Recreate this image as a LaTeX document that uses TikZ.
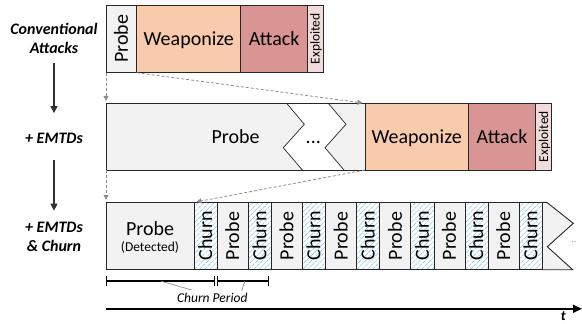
\documentclass[tikz,border=0pt]{standalone}
\usepackage{fontspec}
\setmainfont{Carlito}
\usetikzlibrary{arrows.meta,calc}
\definecolor{probeC}{HTML}{F2F2F2}
\definecolor{weapC}{HTML}{F8CBAD}
\definecolor{attC}{HTML}{D99594}
\definecolor{expC}{HTML}{F2DCDB}
\definecolor{hatchC}{RGB}{145,205,230}
\definecolor{lineC}{HTML}{262626}
\definecolor{dashC}{HTML}{8C8C8C}
\definecolor{arrC}{HTML}{303030}
\newcommand{\sz}[2]{\fontsize{#1bp}{#2bp}\selectfont}
\begin{document}
\begin{tikzpicture}[x=1bp,y=-1bp,
  box/.style={draw=lineC,line width=0.9bp,inner sep=0pt,outer sep=0pt,anchor=north west},
  big/.style={font=\sz{20}{24},inner sep=0pt,anchor=base},
  bigr/.style={font=\sz{20}{24},inner sep=0pt,anchor=base,rotate=90},
  smallr/.style={font=\sz{13.5}{16},inner sep=0pt,anchor=base,rotate=90},
  churnbox/.style={box,fill=white,path picture={
      \foreach \k in {-14,...,6}
        \draw[hatchC,line width=0.6bp,dash pattern=on 4bp off 0.8bp]
          ($(path picture bounding box.south west)+(\k*5.2,0)$) -- ++(75,-75);}},
  lab/.style={align=center,inner sep=0pt,font=\sz{16}{18.8}\bfseries\itshape},
  marrow/.style={draw=arrC,line width=1.3bp,-{Triangle[width=7bp,length=7bp]}},
  dcon/.style={draw=dashC,line width=0.8bp,dash pattern=on 3bp off 2bp,-{Triangle[width=5bp,length=5bp]},shorten >=2.5bp},
  bracket/.style={draw=black,line width=1.1bp,{Bar[width=10bp]}-{Bar[width=10bp]}},
  pointer/.style={draw=gray,line width=0.6bp},
  axis/.style={draw=black,line width=1.4bp,-{Triangle[width=8bp,length=9bp]}}
]
\useasboundingbox (0,0) rectangle (582,323);

% ---------- left labels ----------
\node[lab] (l1) at (54,38.5) {Conventional\\Attacks};
\node[lab] (l2) at (54,138) {+ EMTDs};
\node[lab] (l3) at (54,236.5) {+ EMTDs\\\& Churn};
\draw[marrow,shorten <=9bp,shorten >=19.5bp] (l1) -- (l2);
\draw[marrow,shorten <=16.5bp,shorten >=11bp] (l2) -- (l3);

% ---------- row 1 ----------
\node[box,fill=probeC,minimum width=30.7bp,minimum height=67.7bp] (p1) at (106,5) {};
\node[box,fill=weapC,minimum width=104bp,minimum height=67.7bp] (w1) at (p1.north east) {};
\node[box,fill=attC,minimum width=67bp,minimum height=67.7bp] (a1) at (w1.north east) {};
\node[box,fill=expC,minimum width=15.3bp,minimum height=67.7bp] (e1) at (a1.north east) {};
\node[bigr] at ($(p1.center)+(6.45,0)$) {Probe};
\node[big] at ($(w1.center)+(0,6.45)$) {Weaponize};
\node[big] at ($(a1.center)+(0,6.45)$) {Attack};
\node[smallr] at ($(e1.center)+(4.35,0)$) {Exploited};

% ---------- row 2 ----------
\node[box,draw=none,fill=probeC,minimum width=259bp,minimum height=66.7bp] (p2) at (106,103.3) {};
\fill[white] (286.7,103.3) -- (304.3,124.3) -- (283.3,147.7) -- (302.3,170)
  -- (344,170) -- (325,147.7) -- (346,124.3) -- (328.3,103.3) -- cycle;
\draw[lineC,line width=0.7bp] (286.7,103.3) -- (304.3,124.3) -- (283.3,147.7) -- (302.3,170);
\draw[lineC,line width=0.7bp] (328.3,103.3) -- (346,124.3) -- (325,147.7) -- (344,170);
\draw[lineC,line width=0.9bp] (p2.north west) rectangle (p2.south east);
\node[big] at ($(p2.center)+(0,6.45)$) {Probe};
\node[big] (dots2) at (313.3,143) {...};
\node[box,fill=weapC,minimum width=103.3bp,minimum height=66.7bp] (w2) at (p2.north east) {};
\node[box,fill=attC,minimum width=67.4bp,minimum height=66.7bp] (a2) at (w2.north east) {};
\node[box,fill=expC,minimum width=16bp,minimum height=66.7bp] (e2) at (a2.north east) {};
\node[big] at ($(w2.center)+(0,6.45)$) {Weaponize};
\node[big] at ($(a2.center)+(0,6.45)$) {Attack};
\node[smallr] at ($(e2.center)+(4.35,0)$) {Exploited};

% ---------- row 3 ----------
\node[box,fill=probeC,minimum width=88bp,minimum height=67.4bp] (d0) at (106,202.3) {};
\node[big] at ($(d0.center)+(0,-0.8)$) {Probe};
\node[font=\sz{13.5}{16},inner sep=0pt,anchor=base] at ($(d0.center)+(0,15.9)$) {(Detected)};
\foreach \i in {0,...,6} {
  \node[churnbox,minimum width=23.2bp,minimum height=67.4bp] (c\i) at ({194+54.2*\i},202.3) {};
  \node[bigr] at ($(c\i.center)+(6.45,0)$) {Churn};
}
\foreach \i in {0,...,5} {
  \node[box,fill=probeC,minimum width=31bp,minimum height=67.4bp] (q\i) at (c\i.north east) {};
  \node[bigr] at ($(q\i.center)+(6.45,0)$) {Probe};
}
\fill[probeC] (c6.north east) -- (546.7,202.3) -- (573.3,223.3) -- (547.3,246.7) -- (572.7,269.7) -- (c6.south east) -- cycle;
\draw[lineC,line width=0.9bp] (c6.north east) -- (546.7,202.3) -- (573.3,223.3) -- (547.3,246.7) -- (572.7,269.7) -- (c6.south east);
\draw[lineC,line width=0.9bp] (c6.north east) -- (c6.south east);
\node[font=\sz{9}{10},text=gray,inner sep=0pt,anchor=base] (dots3) at (574,242) {..};

% ---------- dashed connectors ----------
\draw[dcon] (p1.south west) -- (p2.north west);
\draw[dcon] (p1.south east) -- (w2.north west);
\draw[dcon] (p2.south west) -- (d0.north west);
\draw[dcon] (w2.south west) -- (c0.north west);

% ---------- churn period ----------
\coordinate (b1s) at (106,281);
\coordinate (b1e) at (215,281);
\coordinate (b2s) at (217.3,281);
\coordinate (b2e) at (269.3,281);
\draw[bracket] (b1s) -- (b1e);
\draw[bracket] (b2s) -- (b2e);
\node[font=\sz{13.5}{16}\itshape,inner sep=0pt,anchor=base] (cp) at (212.3,302.5) {Churn Period};
\coordinate (cpl) at (191.7,290);
\coordinate (cpr) at (241.7,290.7);
\draw[pointer] ($(b1s)!0.5!(b1e)$) -- (cpl);
\draw[pointer] ($(b2s)!0.53!(b2e)$) -- (cpr);

% ---------- time axis ----------
\coordinate (t0) at (106,308.8);
\coordinate (t1) at (582,308.8);
\draw[axis] (t0) -- (t1);
\node[font=\sz{14}{16}\bfseries\itshape,inner sep=0pt,anchor=base] (tl) at (563.3,320.3) {t};
\end{tikzpicture}
\end{document}
